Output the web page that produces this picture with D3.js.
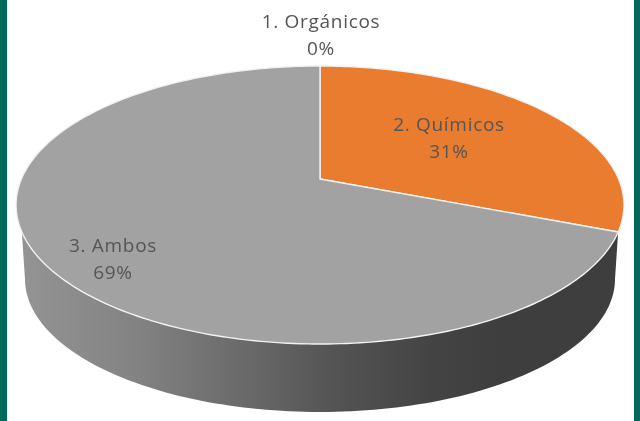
<!DOCTYPE html>
<html><head><meta charset="utf-8">
<script src="https://cdn.jsdelivr.net/npm/d3@7"></script>
<style>html,body{margin:0;padding:0;background:#fff;overflow:hidden}svg{display:block;filter:blur(0.45px)}</style>
</head><body>
<svg id="c" width="640" height="421"></svg>
<script>
const categories = ["1. Orgánicos", "2. Químicos", "3. Ambos"];
const values = [0, 31, 69];
const percentLabels = ["0%", "31%", "69%"];
const sliceColors = ["#5b9bd5", "#e97c2f", "#a2a2a2"];

const W = 640, H = 421;
const labelAnchors = [[321, 28], [449, 131], [113, 252]];
const cx = 320, apexY = 179, discD = 298.6, persp = 0.187, yK = -100.66;
const wall = {cy: 279, rx: 295, ry: 133};

const svg = d3.select("#c");
svg.append("rect").attr("width", W).attr("height", H).attr("fill", "#fff");
svg.append("rect").attr("width", 7).attr("height", H).attr("fill", "#00695c");
svg.append("rect").attr("x", 634).attr("width", 6).attr("height", H).attr("fill", "#00695c");

// projective mapping of the unit disc onto the tilted pie top
const project = (t, r = 1) => {
  const u = r * Math.sin(t), v = r * Math.cos(t), k = 1 + persp * v;
  return [cx + discD * u / k, (yK * v + apexY) / k];
};
const arcs = d3.pie().sort(null).value(d => d)(values);
const line = d3.line();
const sample = (a, b, n = 120) => d3.range(n + 1).map(i => a + (b - a) * i / n);

// side wall
const defs = svg.append("defs");
const grad = defs.append("linearGradient").attr("id", "wallG")
  .attr("gradientUnits", "userSpaceOnUse").attr("x1", 20).attr("x2", 620).attr("y1", 0).attr("y2", 0);
[[0, "#949494"], [0.2, "#828282"], [0.42, "#636363"], [0.52, "#545454"], [0.68, "#444444"], [0.8, "#3e3e3e"], [1, "#3e3e3e"]]
  .forEach(s => grad.append("stop").attr("offset", s[0]).attr("stop-color", s[1]));

const wallStart = arcs[1].endAngle;
const wallEnd = 2 * Math.PI - wallStart;
const wallBottom = t => [cx + wall.rx * Math.sin(t), wall.cy - wall.ry * Math.cos(t)];
const wallPts = sample(wallStart, wallEnd).map(t => project(t))
  .concat(sample(1.5 * Math.PI, 0.5 * Math.PI).map(wallBottom));
svg.append("path").attr("d", line(wallPts) + "Z").attr("fill", "url(#wallG)");

// top slices
svg.selectAll("path.slice").data(arcs).join("path").attr("class", "slice")
  .attr("d", d => line([project(0, 0)].concat(
      sample(d.startAngle, d.endAngle, Math.max(2, Math.round(d.endAngle - d.startAngle) * 60)).map(t => project(t)))) + "Z")
  .attr("fill", (d, i) => sliceColors[i])
  .attr("stroke", "#f2f2f2").attr("stroke-width", 1.4).attr("stroke-linejoin", "round");

// labels
const g = svg.append("g").attr("font-family", "'Open Sans', 'Noto Sans', sans-serif")
  .attr("font-size", 19).attr("letter-spacing", 0.7).attr("fill", "#555").attr("text-anchor", "middle");
categories.forEach((c, i) => {
  g.append("text").attr("x", labelAnchors[i][0]).attr("y", labelAnchors[i][1]).text(c);
  g.append("text").attr("x", labelAnchors[i][0]).attr("y", labelAnchors[i][1] + 27).text(percentLabels[i]);
});
</script>
</body></html>
